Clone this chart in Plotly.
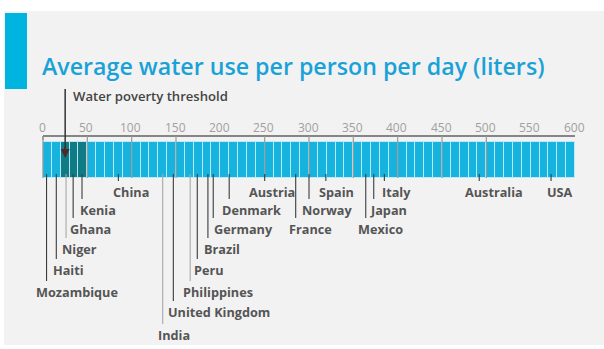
import plotly.graph_objects as go

# ---------------- data ----------------
countries = ["Mozambique", "Haiti", "Niger", "Ghana", "Kenia", "China", "India",
             "United Kingdom", "Philippines", "Peru", "Brazil", "Germany", "Denmark",
             "Austria", "France", "Norway", "Spain", "Mexico", "Japan", "Italy",
             "Australia", "USA"]
liters = [4, 15, 26, 34, 44, 85, 135, 147, 166, 174, 186, 192, 210, 250, 285, 300,
          319, 364, 373, 385, 492, 573]
tick_values = [0, 50, 100, 150, 200, 250, 300, 350, 400, 450, 500, 550, 600]
tick_labels = ["0", "50", "100", "150", "200", "250", "300", "350", "400", "450",
               "500", "550", "600"]
grid_values = [0, 50, 100, 150, 250, 300, 350, 400, 450, 500]
poverty_band = [20, 50]
poverty_threshold = 25
cell_size = 10
scale_max = 600

# ---------------- layout helpers (not data) ----------------
W, H = 604, 349
PX0, PX600 = 43, 575                      # pixel of value 0 and 600
k = (PX600 - PX0) / 600.0
xr = [-PX0 / k, (W - PX0) / k]
row_y = [192, 210, 229, 249, 270, 292, 312, 335]
label_row = {"China": 0, "Austria": 0, "Spain": 0, "Italy": 0, "Australia": 0, "USA": 0,
             "Kenia": 1, "Denmark": 1, "Norway": 1, "Japan": 1,
             "Ghana": 2, "Germany": 2, "France": 2, "Mexico": 2,
             "Niger": 3, "Brazil": 3, "Haiti": 4, "Peru": 4,
             "Mozambique": 5, "Philippines": 5, "United Kingdom": 6, "India": 7}
label_shift = {"China": -6, "Austria": -17, "Spain": -8, "Italy": -3, "Australia": -15,
               "USA": -5, "Kenia": -3, "Denmark": -8, "Norway": -8, "Japan": -5,
               "Ghana": -4, "Germany": 0, "France": -8, "Mexico": -9, "Niger": -5,
               "Brazil": -5, "Haiti": -4, "Peru": -4, "Mozambique": -12,
               "Philippines": -8, "United Kingdom": -6, "India": -6}
light_leaders = {"Niger", "India", "Philippines"}

BAR_TOP, BAR_BOT, AXIS_Y = 142, 178, 136
CYAN = "#17b3df"
TEAL = "#0e7b87"
LABEL_C = "#555555"
FONT = "Open Sans"

fig = go.Figure()

# bar cells
starts = list(range(0, scale_max, cell_size))
centers = [s + cell_size / 2 for s in starts]
colors = [TEAL if poverty_band[0] <= s < poverty_band[1] else CYAN for s in starts]
fig.add_trace(go.Bar(
    x=centers, y=[BAR_BOT - BAR_TOP] * len(starts), base=BAR_TOP, width=cell_size,
    marker=dict(color=colors, line=dict(color="rgba(200,238,250,0.85)", width=1)),
    hoverinfo="skip", showlegend=False))

shapes = []
# panel background
shapes.append(dict(type="rect", xref="paper", yref="paper", x0=4 / W, x1=1,
                   y0=1 - 345 / H, y1=1 - 11 / H, fillcolor="#f2f2f2",
                   line=dict(width=0), layer="below"))
# accent block
shapes.append(dict(type="rect", xref="paper", yref="y", x0=5 / W, x1=27 / W,
                   y0=13, y1=89, fillcolor="#00b4e0", line=dict(width=0)))
# axis line
shapes.append(dict(type="line", x0=0, x1=scale_max, y0=AXIS_Y, y1=AXIS_Y,
                   line=dict(color="#606060", width=1.5)))
shapes.append(dict(type="line", x0=0, x1=0, y0=AXIS_Y, y1=AXIS_Y + 4,
                   line=dict(color="#606060", width=1)))
# grid lines
for g in grid_values:
    shapes.append(dict(type="line", x0=g, x1=g, y0=AXIS_Y, y1=BAR_BOT,
                       line=dict(color="#9a9a9a", width=1.2)))
# leader lines
for c, v in zip(countries, liters):
    ry = row_y[label_row[c]]
    col = "#a8a8a8" if c in light_leaders else "#3c3c3c"
    shapes.append(dict(type="line", x0=v, x1=v, y0=BAR_BOT - 4, y1=ry - 11,
                       line=dict(color=col, width=1.1)))
# threshold line
shapes.append(dict(type="line", x0=poverty_threshold, x1=poverty_threshold,
                   y0=89, y1=150, line=dict(color="#333333", width=1.5)))

annotations = []
annotations.append(dict(x=poverty_threshold, y=158, ax=poverty_threshold, ay=145,
                        xref="x", yref="y", axref="x", ayref="y", showarrow=True,
                        arrowhead=2, arrowsize=1.2, arrowwidth=1.5,
                        arrowcolor="#4a2a2a", text=""))
annotations.append(dict(x=40 / W, y=66, xref="paper", yref="y", xanchor="left",
                        yanchor="middle", showarrow=False,
                        text="Average water use per person per day (liters)",
                        font=dict(family=FONT, size=23.2, color="#1aa2d8", weight=600)))
annotations.append(dict(x=71 / W, y=96, xref="paper", yref="y", xanchor="left",
                        yanchor="middle", showarrow=False,
                        text="Water poverty threshold",
                        font=dict(family=FONT, size=13.1, color="#444444", weight=600)))
for tv, tl in zip(tick_values, tick_labels):
    annotations.append(dict(x=tv, y=127, xref="x", yref="y", xanchor="center",
                            yanchor="middle", showarrow=False, text=tl, xshift=-1,
                            font=dict(family=FONT, size=12, color="#a0a0a0")))
for c, v in zip(countries, liters):
    annotations.append(dict(x=v, y=row_y[label_row[c]], xref="x", yref="y",
                            xanchor="left", yanchor="middle", showarrow=False,
                            text=c, xshift=label_shift[c] - 1,
                            font=dict(family=FONT, size=12.7, color=LABEL_C, weight="bold")))

fig.update_layout(
    width=W, height=H, autosize=False,
    margin=dict(l=0, r=0, t=0, b=0),
    paper_bgcolor="white", plot_bgcolor="rgba(0,0,0,0)",
    xaxis=dict(range=xr, visible=False, fixedrange=True),
    yaxis=dict(range=[H, 0], visible=False, fixedrange=True),
    shapes=shapes, annotations=annotations, bargap=0,
)

fig.write_html("out.html")
